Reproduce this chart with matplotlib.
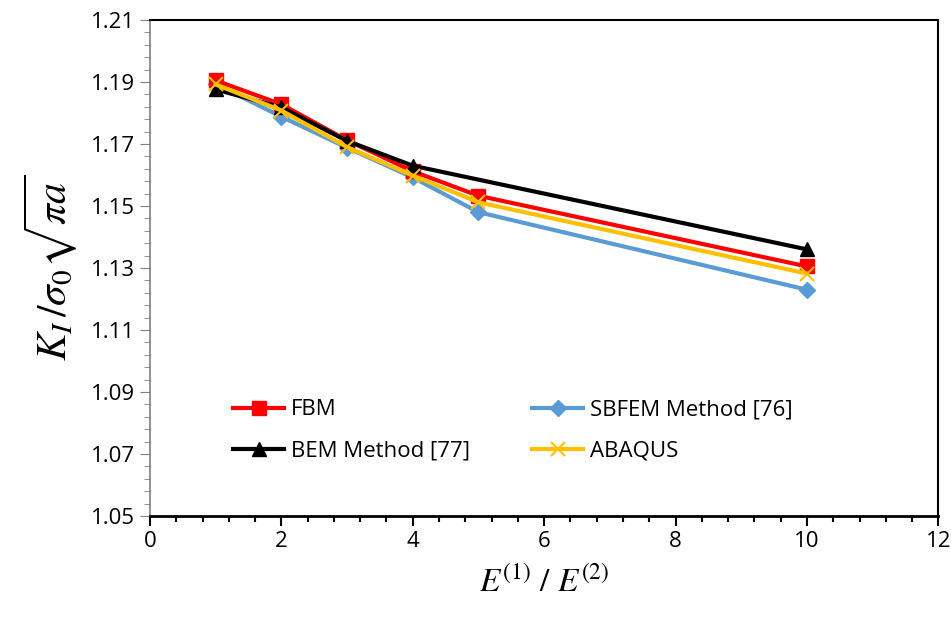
import numpy as np
import matplotlib.pyplot as plt
from matplotlib.ticker import FixedLocator, MultipleLocator

plt.rcParams['mathtext.fontset'] = 'stix'

# ratio E1/E2
ratio = [1, 2, 3, 4, 5, 10]

fbm = [1.1905, 1.1828, 1.1712, 1.1612, 1.1533, 1.1305]
sbfem = [1.1893, 1.1788, 1.1688, 1.1592, 1.1480, 1.1230]
bem = [1.1876, 1.1818, 1.1710, 1.1630, None, 1.1360]
abaqus = [1.1892, 1.1808, 1.1690, 1.1598, 1.1512, 1.1282]

y_ticks = [1.05, 1.07, 1.09, 1.11, 1.13, 1.15, 1.17, 1.19, 1.21]

bem_x = [x for x, y in zip(ratio, bem) if y is not None]
bem_y = [y for y in bem if y is not None]

fig = plt.figure(figsize=(9.51, 6.19), dpi=100)
ax = fig.add_axes([0.1577, 0.1664, 0.8290, 0.8013])

ax.plot(ratio, fbm, color='#ff0000', lw=3, marker='s', ms=10, label='FBM', zorder=3)
ax.plot(ratio, sbfem, color='#5b9bd5', lw=3, marker='D', ms=8, label='SBFEM Method [76]', zorder=2)
ax.plot(bem_x, bem_y, color='black', lw=3, marker='^', ms=10, label='BEM Method [77]', zorder=4)
ax.plot(ratio, abaqus, color='#ffc000', lw=3, marker='x', ms=10, mew=1.5, label='ABAQUS', zorder=5)

ax.set_xlim(0, 12)
ax.set_ylim(1.05, 1.21)
ax.xaxis.set_major_locator(MultipleLocator(2))
ax.xaxis.set_minor_locator(MultipleLocator(0.4))
ax.set_yticks(y_ticks)
ax.set_yticklabels([f'{v:.2f}' for v in y_ticks])
ax.yaxis.set_minor_locator(FixedLocator(np.linspace(1.05, 1.21, 41)))

for lab in ax.get_xticklabels() + ax.get_yticklabels():
    lab.set_fontfamily('Open Sans')
ax.tick_params(axis='both', which='major', labelsize=16, direction='out', length=7)
ax.tick_params(axis='both', which='minor', direction='out', length=4)
ax.tick_params(axis='y', which='both', colors='#7f7f7f', labelcolor='black')
ax.tick_params(axis='x', which='both', width=1.5)

ax.spines['bottom'].set_linewidth(2)
ax.spines['left'].set_color('#7f7f7f')
ax.spines['left'].set_linewidth(1.2)
for s in ['top', 'right']:
    ax.spines[s].set_linewidth(1.5)

ax.set_xlabel(r'$E^{(1)}\ /\ E^{(2)}$', fontsize=24, labelpad=10)
ax.set_ylabel(r'$K_I\,/\sigma_0\sqrt{\pi a}$', fontsize=30, labelpad=8)

handles, labels = ax.get_legend_handles_labels()
order = [0, 2, 1, 3]
ax.legend([handles[i] for i in order], [labels[i] for i in order],
          ncol=2, frameon=False, loc='lower left', bbox_to_anchor=(0.08, 0.07),
          prop={'family': 'Open Sans', 'size': 16}, columnspacing=2.8,
          handlelength=2.3, handletextpad=0.3, labelspacing=0.9)

fig.savefig('out.png', dpi=100)
